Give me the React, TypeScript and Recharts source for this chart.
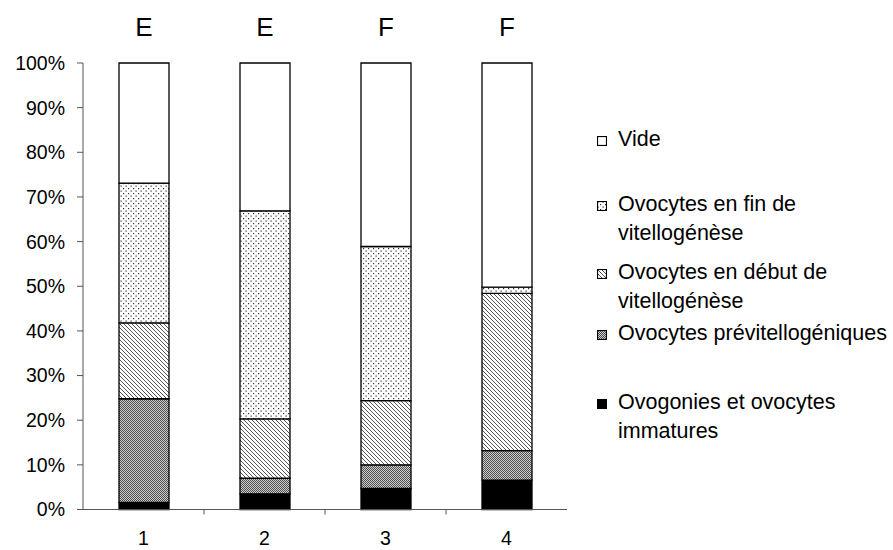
import React from 'react';
import { BarChart, Bar, XAxis, YAxis, LabelList } from 'recharts';

const samples = ['1', '2', '3', '4'];
const stages = ['E', 'E', 'F', 'F'];
const ovogonies = [1.6, 3.5, 4.7, 6.6];
const previtello = [23.2, 3.5, 5.3, 6.6];
const debutVitello = [17.0, 13.3, 14.4, 35.2];
const finVitello = [31.3, 46.6, 34.5, 1.4];
const vide = [26.9, 33.1, 41.1, 50.2];
const yTicks = [0, 10, 20, 30, 40, 50, 60, 70, 80, 90, 100];

const data = samples.map((s, i) => ({
  name: s,
  stage: stages[i],
  ovogonies: ovogonies[i],
  previtello: previtello[i],
  debutVitello: debutVitello[i],
  finVitello: finVitello[i],
  vide: vide[i],
}));

const legendItems = [
  { fill: '#fff', lines: ['Vide'], top: 125 },
  { fill: 'url(#dots)', lines: ['Ovocytes en fin de', 'vitellogénèse'], top: 190 },
  { fill: 'url(#hatch)', lines: ['Ovocytes en début de', 'vitellogénèse'], top: 258 },
  { fill: 'url(#checker)', lines: ['Ovocytes prévitellogéniques'], top: 319 },
  { fill: '#000', lines: ['Ovogonies et ovocytes', 'immatures'], top: 388 },
];

const axisColor = '#555';
const tickStyle = { fontSize: 19.5, fill: '#000' };

// category label at band centre, small tick mark at the right edge of each band (except the last)
const CategoryTick = (props: any) => {
  const { x, y, payload, index } = props;
  const half = payload.offset;
  return (
    <g>
      <text x={x} y={y + 35} textAnchor="middle" fontSize={19.5} fill="#000">{payload.value}</text>
      {index < samples.length - 1 && (
        <line x1={x + half} x2={x + half} y1={y} y2={y + 5} stroke={axisColor} />
      )}
    </g>
  );
};

export default function App() {
  return (
    <div style={{ position: 'absolute', left: 0, top: 0, width: 893, height: 550, background: '#fff', fontFamily: '"Liberation Sans", Arial, sans-serif' }}>
      <BarChart width={893} height={550} data={data} margin={{ top: 63, right: 326, bottom: 10.5, left: 0 }} barSize={50}>
        <defs>
          <pattern id="dots" width="5" height="5" patternUnits="userSpaceOnUse">
            <rect width="5" height="5" fill="#fff" />
            <rect x="0.5" y="0.5" width="1.2" height="1.2" fill="#333" />
            <rect x="3" y="3" width="1.2" height="1.2" fill="#333" />
          </pattern>
          <pattern id="hatch" width="4" height="4" patternUnits="userSpaceOnUse">
            <rect width="4" height="4" fill="#fff" />
            <path d="M-1,-1 L5,5 M-1,3 L1,5 M3,-1 L5,1" stroke="#555" strokeWidth="1" />
          </pattern>
          <pattern id="checker" width="2" height="2" patternUnits="userSpaceOnUse">
            <rect width="2" height="2" fill="#cccccc" />
            <rect x="0" y="0" width="1" height="1" fill="#505050" />
            <rect x="1" y="1" width="1" height="1" fill="#505050" />
          </pattern>
        </defs>
        <XAxis
          dataKey="name"
          tick={<CategoryTick />}
          interval={0}
          tickLine={false}
          tickSize={0}
          tickMargin={0}
          axisLine={{ stroke: axisColor }}
          height={30}
        />
        <YAxis
          type="number"
          domain={[0, 100]}
          ticks={yTicks}
          interval={0}
          tickFormatter={(v: number) => `${v}%`}
          tick={tickStyle}
          tickSize={6}
          tickMargin={12}
          tickLine={{ stroke: axisColor }}
          axisLine={{ stroke: axisColor }}
          width={83}
        />
        <Bar dataKey="ovogonies" stackId="a" fill="#000" stroke="#000" strokeWidth={1.3} isAnimationActive={false} />
        <Bar dataKey="previtello" stackId="a" fill="url(#checker)" stroke="#000" strokeWidth={1.3} isAnimationActive={false} />
        <Bar dataKey="debutVitello" stackId="a" fill="url(#hatch)" stroke="#000" strokeWidth={1.3} isAnimationActive={false} />
        <Bar dataKey="finVitello" stackId="a" fill="url(#dots)" stroke="#000" strokeWidth={1.3} isAnimationActive={false} />
        <Bar dataKey="vide" stackId="a" fill="#fff" stroke="#000" strokeWidth={1.3} isAnimationActive={false}>
          <LabelList dataKey="stage" position="top" offset={27} style={{ fontSize: 26, fill: '#000' }} />
        </Bar>
      </BarChart>
      {legendItems.map((item) => (
        <div key={item.lines[0]} style={{ position: 'absolute', left: 597, top: item.top, fontSize: 21.5, lineHeight: '29px', color: '#000' }}>
          <svg width={10} height={10} style={{ position: 'absolute', left: 0, top: 11 }}>
            <rect x={0.5} y={0.5} width={9} height={9} fill={item.fill} stroke="#000" strokeWidth={1.2} />
          </svg>
          <div style={{ marginLeft: 21, whiteSpace: 'nowrap' }}>
            {item.lines.map((l) => (
              <div key={l}>{l}</div>
            ))}
          </div>
        </div>
      ))}
    </div>
  );
}
